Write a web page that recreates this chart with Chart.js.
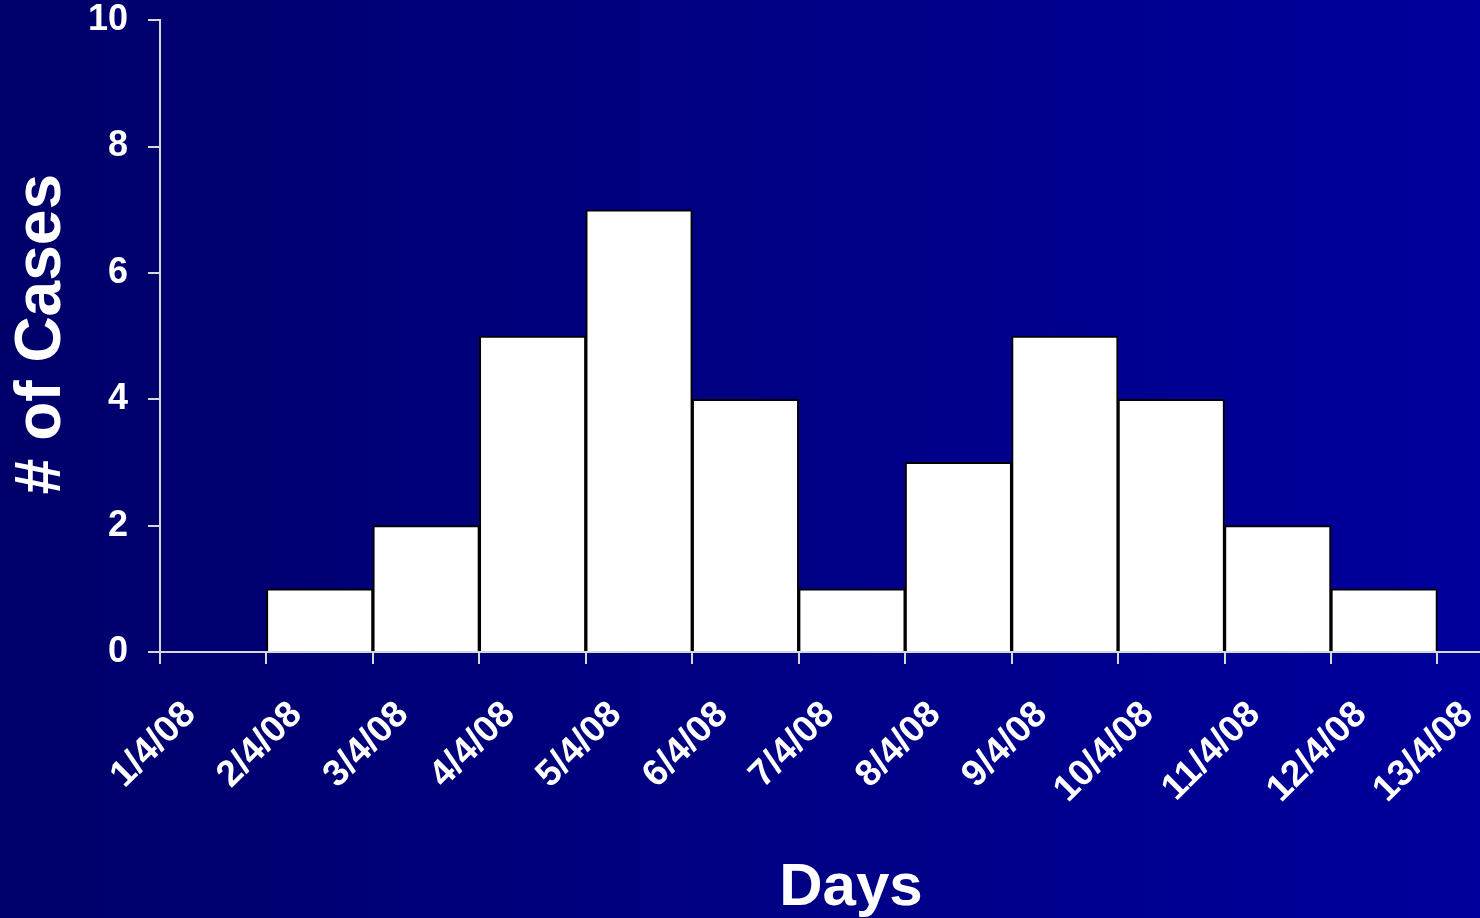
<!DOCTYPE html>
<html>
<head>
<meta charset="utf-8">
<title># of Cases</title>
<script src="https://cdn.jsdelivr.net/npm/chart.js@4.4.1/dist/chart.umd.min.js"></script>
<style>
  html, body { margin: 0; padding: 0; background: #00006a; }
  #wrap { width: 1480px; height: 918px; }
</style>
</head>
<body>
<div id="wrap"><canvas id="c" width="1480" height="918"></canvas></div>
<script>
// Day boundaries shown on the x axis
const dayLabels = ['1/4/08', '2/4/08', '3/4/08', '4/4/08', '5/4/08', '6/4/08', '7/4/08',
                   '8/4/08', '9/4/08', '10/4/08', '11/4/08', '12/4/08', '13/4/08'];
// Cases counted in each day interval (from one boundary to the next)
const caseCounts = [0, 1, 2, 5, 7, 4, 1, 3, 5, 4, 2, 1];
// Y axis ticks
const yTicks = [0, 2, 4, 6, 8, 10];

const FONT = "'Liberation Sans', Arial, Helvetica, sans-serif";

const backdrop = {
  id: 'backdrop',
  beforeDraw(chart) {
    const { ctx, width, height } = chart;
    const g = ctx.createLinearGradient(0, 0, width, 0);
    g.addColorStop(0, '#00006a');
    g.addColorStop(1, '#00009c');
    ctx.save();
    ctx.fillStyle = g;
    ctx.fillRect(0, 0, width, height);
    ctx.restore();
  }
};

const axisTitles = {
  id: 'axisTitles',
  afterDraw(chart) {
    const { ctx, chartArea } = chart;
    ctx.save();
    ctx.fillStyle = '#ffffff';
    ctx.font = 'bold 64px ' + FONT;
    ctx.textAlign = 'center';
    ctx.textBaseline = 'middle';
    ctx.translate(42, (chartArea.top + chartArea.bottom) / 2 - 2);
    ctx.rotate(-Math.PI / 2);
    ctx.fillText('# of Cases', 0, 0);
    ctx.restore();

    ctx.save();
    ctx.fillStyle = '#ffffff';
    ctx.font = 'bold 60px ' + FONT;
    ctx.textAlign = 'center';
    ctx.textBaseline = 'alphabetic';
    ctx.fillText('Days', 851, 905);
    ctx.restore();
  }
};

new Chart(document.getElementById('c'), {
  type: 'bar',
  data: {
    datasets: [{
      data: caseCounts.map((v, i) => ({ x: i + 0.5, y: v })),
      backgroundColor: '#ffffff',
      borderColor: '#000000',
      borderWidth: 2,
      borderSkipped: 'start',
      barPercentage: 1,
      categoryPercentage: 1
    }]
  },
  options: {
    responsive: false,
    animation: false,
    events: [],
    layout: { padding: { top: 2, right: 0, left: 0, bottom: 0 } },
    plugins: { legend: { display: false }, tooltip: { enabled: false } },
    scales: {
      x: {
        type: 'linear',
        offset: false,
        min: 0,
        max: 12.4,
        afterBuildTicks(scale) {
          scale.ticks = dayLabels.map((_, i) => ({ value: i }));
        },
        afterFit(scale) {
          scale.height = 266;
          scale.paddingRight = 0;
        },
        grid: { offset: false, drawOnChartArea: false, drawTicks: true, tickLength: 12, color: '#d8d8d8', lineWidth: 2 },
        border: { color: '#d8d8d8', width: 2 },
        ticks: {
          autoSkip: false,
          maxRotation: 45,
          minRotation: 45,
          labelOffset: 30,
          padding: 29,
          color: '#ffffff',
          font: { family: FONT, size: 37, weight: 'bold' },
          callback: (v) => dayLabels[v]
        }
      },
      y: {
        min: 0,
        max: 10,
        afterBuildTicks(scale) {
          scale.ticks = yTicks.map(v => ({ value: v }));
        },
        afterFit(scale) { scale.width = 160; },
        grid: { drawOnChartArea: false, drawTicks: true, tickLength: 12, color: '#d8d8d8', lineWidth: 2 },
        border: { color: '#d8d8d8', width: 2 },
        ticks: {
          padding: 20,
          color: '#ffffff',
          font: { family: FONT, size: 36, weight: 'bold', lineHeight: 0.01 }
        }
      }
    }
  },
  plugins: [backdrop, axisTitles]
});
</script>
</body>
</html>
